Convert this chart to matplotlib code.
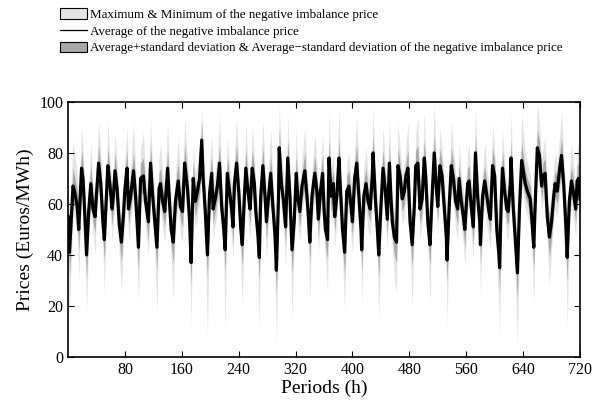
import numpy as np
import matplotlib
matplotlib.use("Agg")
import matplotlib.pyplot as plt
from matplotlib.patches import Patch
from matplotlib.lines import Line2D

plt.rcParams['font.family'] = ['Liberation Serif', 'DejaVu Serif']

# hours
hours = [0, 2, 7, 9, 13, 15, 19, 21, 23, 26, 29, 32, 35, 38, 40, 43, 46, 49, 51, 54,
         56, 59, 62, 64, 66, 69, 72, 75, 78, 80, 83, 85, 88, 92, 95, 99, 102, 106, 109, 113,
         116, 119, 122, 125, 128, 130, 133, 136, 140, 143, 145, 148, 151, 155, 158, 161, 164, 168, 171, 173,
         176, 179, 182, 185, 188, 190, 193, 196, 199, 202, 204, 207, 210, 213, 216, 219, 221, 224, 227, 230,
         232, 234, 237, 240, 243, 245, 248, 250, 253, 256, 259, 262, 264, 267, 269, 271, 274, 277, 279, 282,
         285, 288, 291, 293, 296, 297, 300, 303, 306, 309, 312, 315, 318, 321, 323, 326, 329, 333, 336, 338,
         340, 343, 347, 350, 352, 355, 358, 360, 362, 365, 367, 370, 373, 375, 378, 381, 383, 386, 389, 392,
         395, 398, 400, 403, 406, 409, 412, 413, 416, 419, 422, 425, 428, 429, 432, 435, 437, 440, 443, 446,
         449, 452, 454, 456, 459, 462, 464, 467, 470, 473, 475, 478, 481, 484, 487, 489, 492, 495, 498, 501,
         503, 506, 509, 512, 515, 518, 520, 523, 526, 529, 532, 533, 536, 539, 542, 545, 548, 550, 553, 556,
         558, 562, 564, 567, 570, 573, 576, 579, 580, 583, 586, 589, 592, 594, 597, 600, 603, 606, 607, 609,
         611, 614, 617, 619, 622, 623, 626, 629, 632, 635, 638, 643, 646, 650, 652, 655, 657, 660, 663, 666,
         668, 671, 674, 677, 680, 683, 685, 688, 691, 694, 697, 700, 702, 705, 708, 711, 714, 716, 718, 720]

avg_price = [55, 41, 67, 65, 59, 50, 74, 70, 59, 40, 57, 68, 58, 55, 64, 76, 68, 53, 46, 63,
             75, 67, 58, 64, 73, 66, 52, 45, 56, 66, 74, 58, 63, 73, 63, 43, 70, 71, 61, 53,
             76, 63, 53, 43, 66, 68, 61, 57, 74, 59, 50, 45, 61, 69, 59, 57, 76, 66, 53, 37,
             70, 61, 65, 70, 85, 70, 57, 40, 64, 72, 58, 62, 67, 76, 59, 50, 42, 72, 65, 58,
             51, 68, 76, 65, 50, 44, 63, 74, 65, 58, 74, 68, 57, 48, 39, 63, 75, 63, 53, 63,
             72, 59, 48, 34, 63, 82, 68, 61, 51, 78, 63, 42, 53, 72, 63, 57, 67, 73, 63, 55,
             45, 63, 72, 65, 54, 65, 72, 58, 50, 46, 78, 63, 68, 55, 63, 78, 66, 50, 41, 65,
             67, 59, 53, 70, 76, 63, 50, 42, 63, 68, 61, 58, 72, 80, 63, 50, 40, 59, 74, 66,
             54, 76, 63, 53, 47, 45, 75, 71, 62, 65, 71, 74, 53, 44, 59, 75, 76, 58, 62, 78,
             71, 53, 44, 63, 80, 66, 59, 75, 71, 59, 47, 38, 59, 75, 70, 61, 58, 70, 61, 55,
             50, 68, 69, 59, 51, 80, 63, 53, 44, 63, 69, 63, 57, 54, 75, 71, 50, 40, 35, 59,
             74, 65, 58, 57, 68, 78, 59, 46, 33, 59, 77, 68, 65, 62, 55, 43, 60, 82, 79, 67,
             71, 72, 55, 47, 53, 63, 68, 65, 73, 79, 68, 52, 39, 61, 69, 64, 58, 69, 70, 62]

max_price = [75, 55, 85, 80, 72, 62, 90, 82, 70, 52, 68, 84, 68, 65, 75, 92, 80, 64, 58, 75,
             92, 78, 68, 75, 88, 76, 62, 56, 67, 78, 90, 68, 74, 92, 74, 55, 82, 88, 72, 64,
             94, 74, 64, 55, 78, 84, 72, 68, 92, 70, 62, 56, 72, 86, 70, 67, 94, 78, 64, 50,
             82, 72, 76, 82, 97, 82, 68, 52, 76, 88, 68, 72, 78, 95, 70, 62, 54, 86, 76, 68,
             62, 80, 94, 76, 62, 56, 74, 92, 76, 68, 90, 80, 68, 60, 52, 75, 93, 74, 64, 74,
             90, 70, 60, 48, 76, 99, 80, 72, 62, 95, 74, 54, 64, 90, 74, 67, 78, 90, 74, 66,
             56, 74, 88, 76, 65, 76, 88, 68, 62, 58, 96, 74, 80, 66, 74, 97, 78, 62, 53, 77,
             80, 70, 64, 82, 94, 74, 62, 54, 74, 82, 72, 68, 86, 98, 74, 62, 52, 70, 90, 78,
             65, 94, 74, 64, 58, 56, 92, 82, 72, 76, 82, 92, 64, 56, 70, 88, 94, 68, 74, 96,
             82, 64, 56, 76, 99, 78, 70, 90, 82, 70, 58, 50, 70, 92, 82, 72, 68, 84, 72, 66,
             62, 80, 84, 70, 62, 98, 74, 64, 56, 74, 84, 74, 68, 65, 92, 82, 62, 52, 48, 72,
             90, 76, 68, 67, 80, 96, 70, 58, 46, 72, 95, 80, 76, 72, 66, 55, 72, 99, 92, 78,
             82, 86, 66, 58, 64, 74, 80, 76, 86, 96, 80, 64, 52, 72, 84, 75, 68, 82, 84, 74]

min_price = [25, 18, 55, 55, 48, 30, 63, 60, 48, 18, 45, 58, 48, 40, 55, 66, 58, 42, 25, 53,
             65, 57, 45, 54, 63, 56, 40, 25, 45, 56, 64, 45, 53, 63, 52, 22, 60, 61, 50, 40,
             66, 52, 40, 18, 56, 58, 50, 45, 64, 48, 38, 22, 50, 59, 48, 45, 66, 56, 40, 12,
             60, 50, 55, 60, 74, 60, 46, 8, 54, 62, 46, 52, 57, 66, 48, 38, 10, 62, 55, 47,
             38, 58, 66, 55, 38, 20, 53, 64, 55, 46, 64, 58, 46, 35, 10, 53, 65, 52, 38, 53,
             62, 48, 35, 5, 52, 72, 58, 50, 35, 68, 52, 15, 42, 62, 52, 45, 57, 63, 52, 44,
             22, 53, 62, 55, 40, 55, 62, 47, 38, 25, 68, 52, 58, 42, 53, 68, 56, 38, 18, 55,
             57, 48, 40, 60, 66, 52, 38, 20, 53, 58, 50, 47, 62, 70, 52, 38, 15, 48, 64, 56,
             42, 66, 52, 42, 30, 25, 65, 61, 52, 55, 61, 64, 42, 20, 48, 65, 66, 46, 52, 68,
             61, 42, 20, 53, 70, 56, 48, 65, 61, 48, 32, 12, 48, 65, 60, 50, 46, 60, 50, 44,
             35, 58, 59, 48, 38, 70, 52, 42, 22, 53, 59, 52, 46, 42, 65, 61, 38, 18, 8, 48,
             64, 55, 47, 46, 58, 68, 48, 30, 5, 48, 67, 58, 55, 52, 44, 20, 50, 72, 69, 57,
             61, 62, 44, 28, 42, 53, 58, 55, 63, 69, 58, 40, 12, 50, 59, 54, 47, 59, 60, 52]

std_price = [7, 9, 7, 6, 6, 8, 7, 6, 6, 9, 6, 7, 5, 6, 5, 7, 6, 6, 8, 5,
             7, 5, 6, 5, 7, 5, 6, 8, 6, 6, 7, 6, 5, 7, 6, 9, 6, 7, 5, 7,
             7, 6, 6, 9, 6, 6, 5, 6, 7, 6, 6, 8, 6, 7, 5, 6, 7, 6, 7, 9,
             7, 6, 5, 6, 7, 6, 6, 9, 6, 7, 6, 5, 5, 7, 6, 6, 9, 7, 5, 5,
             7, 6, 7, 6, 6, 8, 6, 7, 5, 6, 7, 6, 6, 7, 9, 6, 7, 6, 7, 5,
             7, 6, 7, 10, 7, 8, 6, 5, 7, 7, 6, 9, 6, 7, 5, 6, 5, 7, 5, 6,
             8, 5, 7, 5, 7, 5, 7, 6, 6, 8, 7, 6, 5, 6, 5, 7, 6, 6, 9, 6,
             6, 5, 6, 6, 7, 6, 7, 9, 6, 6, 5, 5, 6, 7, 6, 7, 9, 6, 7, 5,
             6, 7, 6, 6, 7, 8, 7, 5, 5, 5, 5, 7, 6, 8, 6, 6, 7, 6, 5, 7,
             6, 6, 8, 6, 7, 6, 5, 7, 5, 6, 7, 9, 6, 7, 6, 5, 6, 6, 5, 6,
             7, 6, 6, 5, 7, 7, 6, 6, 8, 6, 6, 5, 5, 6, 7, 6, 7, 8, 10, 7,
             7, 5, 5, 5, 6, 7, 6, 7, 10, 7, 7, 5, 5, 5, 6, 9, 7, 7, 6, 5,
             5, 6, 6, 8, 6, 5, 5, 5, 6, 7, 6, 7, 9, 6, 6, 5, 5, 6, 6, 6]

x_ticks = [80, 160, 240, 320, 400, 480, 560, 640, 720]
y_ticks = [0, 20, 40, 60, 80, 100]

light = '#e4e4e4'
dark = '#a8a8a8'

h = np.array(hours)
avg = np.array(avg_price)
std = np.array(std_price)

fig = plt.figure(figsize=(5.97, 4.05), dpi=100)
ax = fig.add_axes([0.114, 0.1185, 0.8575, 0.63])

ax.fill_between(h, min_price, max_price, color=light, lw=0)
ax.fill_between(h, avg - std, avg + std, color=dark, lw=0)
ax.plot(h, avg, color='black', lw=2.3)

ax.set_xlim(0, 720)
ax.set_ylim(0, 100)
ax.set_xticks(x_ticks)
ax.set_yticks(y_ticks)
ax.tick_params(direction='in', top=True, right=True, labelsize=11.5, length=4)
ax.set_xlabel('Periods (h)', fontsize=14, labelpad=1)
ax.set_ylabel('Prices (Euros/MWh)', fontsize=14, labelpad=4)
for s in ax.spines.values():
    s.set_linewidth(1.2)

handles = [Patch(facecolor=light, edgecolor='black', lw=0.8),
           Line2D([], [], color='black', lw=0.9),
           Patch(facecolor=dark, edgecolor='black', lw=0.8)]
labels = ['Maximum & Minimum of the negative imbalance price',
          'Average of the negative imbalance price',
          'Average+standard deviation & Average\u2212standard deviation of the negative imbalance price']
fig.legend(handles, labels, loc='upper left', bbox_to_anchor=(0.087, 0.999),
           frameon=False, fontsize=9.4, handlelength=2.1, handleheight=0.85,
           handletextpad=0.25, labelspacing=0.3, borderaxespad=0.2)

fig.savefig('out.png', dpi=100)
